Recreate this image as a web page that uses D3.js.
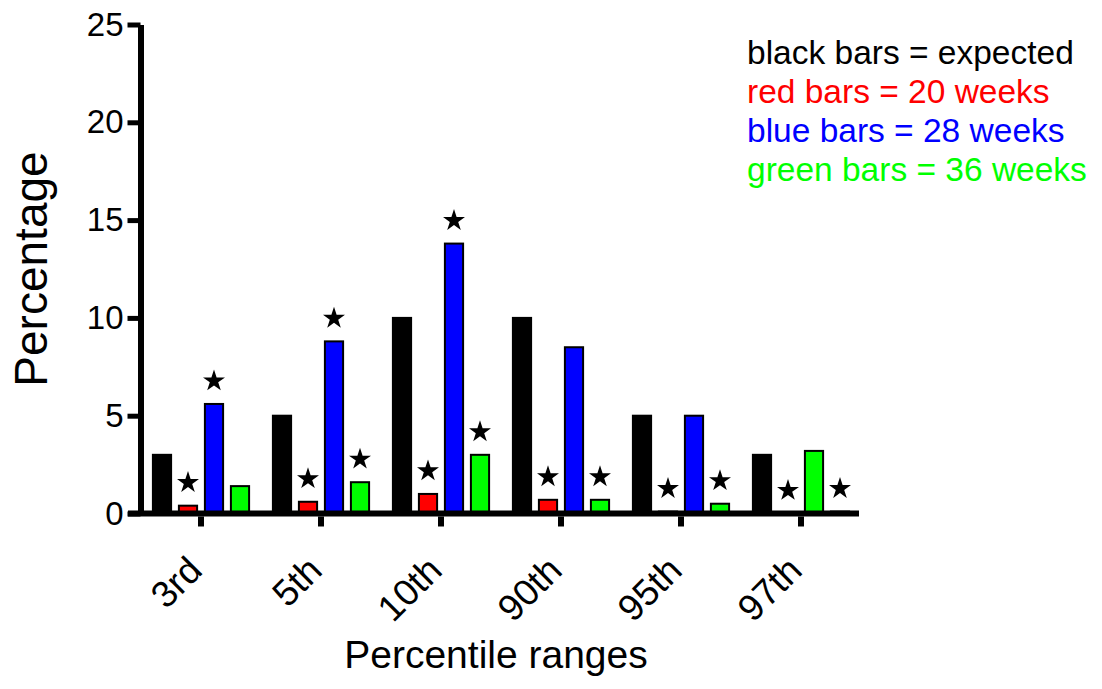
<!DOCTYPE html>
<html>
<head>
<meta charset="utf-8">
<script src="https://cdn.jsdelivr.net/npm/d3@7"></script>
<style>
  html, body { margin: 0; padding: 0; background: #fff; }
  svg { display: block; font-family: "Liberation Sans", Arial, sans-serif; }
</style>
</head>
<body>
<svg id="chart" width="1102" height="689"></svg>
<script>
// ---- data ----
const categories = ["3rd", "5th", "10th", "90th", "95th", "97th"];
const seriesNames = ["expected", "20 weeks", "28 weeks", "36 weeks"];
const expected = [3, 5, 10, 10, 5, 3];
const weeks20 = [0.4, 0.6, 1.0, 0.7, 0.1, 0];
const weeks28 = [5.6, 8.8, 13.8, 8.5, 5.0, 3.2];
const weeks36 = [1.4, 1.6, 3.0, 0.7, 0.5, 0.1];
const starsExpected = [false, false, false, false, false, false];
const stars20 = [true, true, true, true, true, true];
const stars28 = [true, true, true, false, false, false];
const stars36 = [false, true, true, true, true, true];
const yTicks = [0, 5, 10, 15, 20, 25];
const legendLines = ["black bars = expected", "red bars = 20 weeks", "blue bars = 28 weeks", "green bars = 36 weeks"];

const seriesValues = [expected, weeks20, weeks28, weeks36];
const seriesStars = [starsExpected, stars20, stars28, stars36];
const seriesColors = ["#000000", "#ff0000", "#0000ff", "#00ff00"];
// in the original, the 28-week bar of the 97th range is drawn in green
const fillOverride = { "97th|28 weeks": "#00ff00" };

const rows = [];
categories.forEach((c, i) => {
  seriesNames.forEach((s, j) => {
    rows.push({ cat: c, series: s, value: seriesValues[j][i], star: seriesStars[j][i],
      color: fillOverride[c + "|" + s] || seriesColors[j] });
  });
});

// ---- layout ----
const svg = d3.select("#chart");
const y = d3.scaleLinear().domain([0, 25]).range([513.5, 24.5]);
const x = d3.scaleBand().domain(categories).range([141, 861]).padding(0);
const xs = d3.scaleBand().domain(seriesNames).range([-52, 52]).paddingInner(0.3).paddingOuter(0.15);

// bars
svg.append("g").selectAll("rect").data(rows).join("rect")
  .attr("x", d => x(d.cat) + x.bandwidth() / 2 + xs(d.series))
  .attr("width", xs.bandwidth())
  .attr("y", d => y(d.value))
  .attr("height", d => y(0) - y(d.value))
  .attr("fill", d => d.color)
  .attr("stroke", "#000")
  .attr("stroke-width", d => d.value > 0 ? 2 : 0);

// stars
const star = d3.symbol().type(d3.symbolStar).size(150);
svg.append("g").selectAll("path").data(rows.filter(d => d.star)).join("path")
  .attr("d", star)
  .attr("fill", "#000")
  .attr("transform", d => `translate(${x(d.cat) + x.bandwidth() / 2 + xs(d.series) + xs.bandwidth() / 2},${y(d.value) - 23})`);

// y axis
const yAxis = svg.append("g").attr("transform", "translate(140.5,0)")
  .call(d3.axisLeft(y).tickValues(yTicks).tickSizeInner(13).tickSizeOuter(0).tickPadding(4));
yAxis.select(".domain").attr("stroke", "#000").attr("stroke-width", 6);
yAxis.selectAll(".tick line").attr("stroke", "#000").attr("stroke-width", 5);
yAxis.selectAll(".tick text").attr("font-size", 33).attr("fill", "#000")
  .attr("font-family", "'Liberation Sans', Arial, sans-serif");

// x axis
const xAxis = svg.append("g").attr("transform", `translate(0,${y(0)})`)
  .call(d3.axisBottom(x).tickSizeInner(13).tickSizeOuter(0));
xAxis.select(".domain").attr("stroke", "#000").attr("stroke-width", 6)
  .attr("d", `M128,0H859`);
xAxis.selectAll(".tick line").attr("stroke", "#000").attr("stroke-width", 6).attr("y1", 3);
xAxis.selectAll(".tick text")
  .attr("font-size", 37).attr("fill", "#000")
  .attr("font-family", "'Liberation Sans', Arial, sans-serif")
  .attr("text-anchor", "end")
  .attr("dy", 0).attr("y", 0)
  .attr("transform", "translate(3,59) rotate(-45)");

// axis titles
svg.append("text")
  .attr("transform", "translate(47,269) rotate(-90)")
  .attr("text-anchor", "middle")
  .attr("font-size", 46)
  .attr("fill", "#000")
  .text("Percentage");

svg.append("text")
  .attr("x", 496).attr("y", 668)
  .attr("text-anchor", "middle")
  .attr("font-size", 39)
  .attr("fill", "#000")
  .text("Percentile ranges");

// legend
svg.append("g").selectAll("text").data(legendLines).join("text")
  .attr("x", 747)
  .attr("y", (d, i) => 64 + i * 39)
  .attr("font-size", 33.5)
  .attr("fill", (d, i) => seriesColors[i])
  .text(d => d);
</script>
</body>
</html>
